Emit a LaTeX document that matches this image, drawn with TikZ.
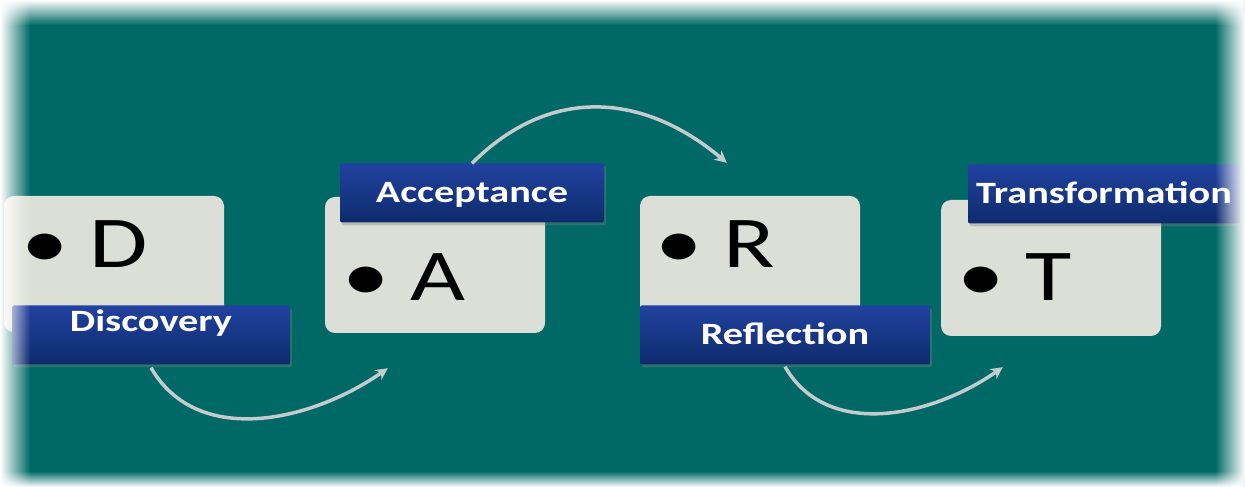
\documentclass[tikz,border=0pt]{standalone}
\usepackage{fontspec}
\setmainfont{Carlito}
\newfontfamily\widefont[FakeStretch=1.3]{Carlito}
\usetikzlibrary{arrows.meta,fadings,shadows}

\definecolor{bgteal}{HTML}{006965}
\definecolor{cardgray}{HTML}{DCDFD7}
\definecolor{tagtop}{HTML}{2142A0}
\definecolor{tagbot}{HTML}{0E2B6C}
\definecolor{arrowgray}{HTML}{C3CBCF}

\tikzset{
  card/.style={fill=cardgray, rounded corners=10pt, minimum width=220pt, minimum height=136pt, inner sep=0pt},
  letter/.style={font=\widefont\fontsize{73}{73}\selectfont, inner sep=0pt, anchor=base west},
  tag/.style={top color=tagtop, bottom color=tagbot, rounded corners=2pt, minimum height=59pt, inner sep=0pt,
    text=white, font=\widefont\bfseries\fontsize{31}{31}\selectfont, text height=18.5pt, text depth=0pt,
    drop shadow={opacity=0.35, shadow xshift=2pt, shadow yshift=-3pt}},
  flow/.style={draw=arrowgray, line width=3.5pt, -{Stealth[length=12pt,width=12pt]}}
}

\begin{document}
\begin{tikzpicture}[x=1pt,y=1pt]
  \useasboundingbox (0,0) rectangle (1245,487);
  \fill[bgteal] (0,0) rectangle (1245,487);

  \node[card] (boxD) at (114,223) {};
  \node[card] (boxA) at (435,222) {};
  \node[card] (boxR) at (750,223) {};
  \node[card] (boxT) at (1051,219) {};

  \node[letter] (txtD) at ([xshift=17pt,yshift=-72pt]boxD.north west) {• D};
  \node[letter] (txtA) at ([xshift=17pt,yshift=33pt]boxA.south west) {• A};
  \node[letter] (txtR) at ([xshift=15pt,yshift=-72pt]boxR.north west) {• R};
  \node[letter] (txtT) at ([xshift=16pt,yshift=36pt]boxT.south west) {• T};

  \node[tag, minimum width=278pt, text depth=24.5pt] (tagD) at (151,152) {Discovery};
  \node[tag, minimum width=264pt] (tagA) at (472,294) {Acceptance};
  \node[tag, minimum width=290pt] (tagR) at (785,152) {Reflection};
  \node[tag, minimum width=272pt] (tagT) at (1104,293) {Transformation};

  \draw[flow] ([yshift=-3pt]tagD.south) to[out=-60,in=-145] ([xshift=63pt,yshift=-35pt]boxA.south west);
  \draw[flow] (tagA.north) to[out=45,in=140,looseness=1.1] ([xshift=87pt,yshift=33pt]boxR.north west);
  \draw[flow] ([yshift=-2pt]tagR.south) to[out=-60,in=-145] ([xshift=62pt,yshift=-31pt]boxT.south west);

  % soft white edge
  \fill[white, path fading=east] (0,0) rectangle (30,487);
  \fill[white, path fading=west] (1215,0) rectangle (1245,487);
  \fill[white, path fading=south] (0,462) rectangle (1245,487);
  \fill[white, path fading=north] (0,0) rectangle (1245,16);
\end{tikzpicture}
\end{document}
